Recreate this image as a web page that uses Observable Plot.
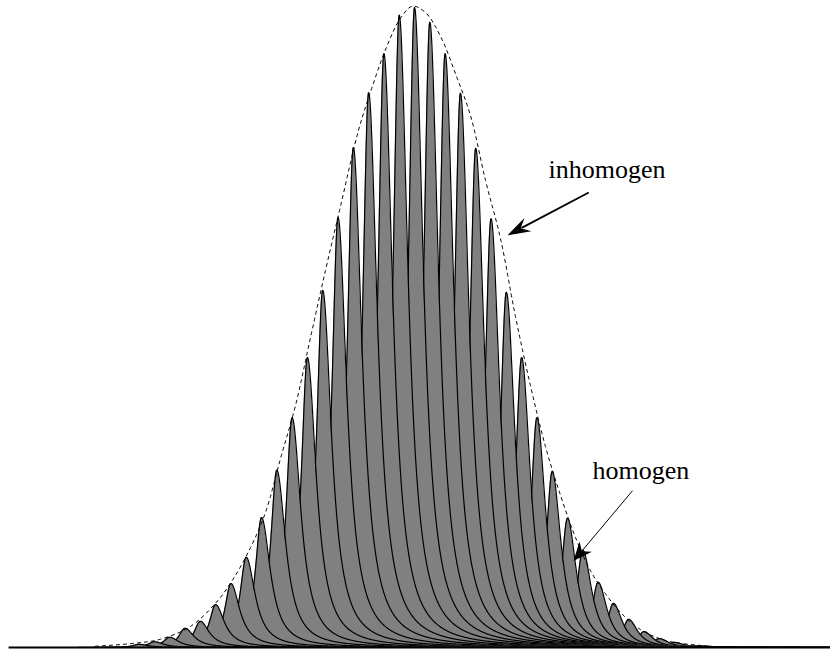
<!DOCTYPE html>
<html>
<head>
<meta charset="utf-8">
<script src="https://cdn.jsdelivr.net/npm/d3@7"></script>
<script src="https://cdn.jsdelivr.net/npm/@observablehq/plot@0.6"></script>
<style>
  html, body { margin: 0; padding: 0; background: #fff; }
  #chart svg { display: block; }
</style>
</head>
<body>
<div id="chart"></div>
<script>
// --- Data ---
// Line centres (in units of the line spacing) and their peak heights (% of max)
const lineCenters = [-18,-17,-16,-15,-14,-13,-12,-11,-10,-9,-8,-7,-6,-5,-4,-3,-2,-1,0,
                     1,2,3,4,5,6,7,8,9,10,11,12,13,14,15,16,17,18];
const lineHeights = [0.5,0.9,1.6,3.0,4.1,6.7,10.0,14.1,20.3,27.7,35.9,45.3,55.8,67.2,78.1,86.7,92.8,98.8,100,
                     97.7,92.8,86.6,78.0,67.0,55.5,45.3,35.9,27.5,20.2,15.2,10.2,6.9,4.4,2.5,1.4,0.8,0.3];
// Inhomogeneous (dashed) envelope
const envelopeX = [-20.85,-18.56,-16.6,-14.64,-13.01,-11.9,-10.72,-9.74,-8.76,-7.78,-6.8,-5.82,-4.84,-3.66,-2.75,-1.83,-0.92,-0.13,
                   0.72,1.7,2.75,3.66,4.64,5.62,6.6,7.58,8.56,9.54,10.52,11.5,12.48,13.46,14.77,16.41,18.76,20.65];
const envelopeY = [0.2,0.6,1.3,3.3,6.9,10.5,15.6,21.1,29.5,37.8,48.4,58.9,68.9,80.8,87.7,93.8,98.3,100.2,
                   99.2,95.5,89.2,83.1,73.0,63.9,51.7,40.9,31.4,23.8,17.2,12.0,8.4,5.5,2.8,1.1,0.3,0];
// Annotations
const labels = [
  {text: "inhomogen", x: 8.76, y: 73.4},
  {text: "homogen",   x: 11.63, y: 26.4}
];
const arrows = [
  {x1: 11.39, y1: 71.1, x2: 6.08,  y2: 64.4, width: 1.8, len: 23, half: 7.5, notch: 15},
  {x1: 14.25, y1: 24.5, x2: 10.39, y2: 13.5, width: 1.0, len: 19, half: 8,   notch: 13}
];
// Line shape widths (half widths at half maximum, in line spacings): steep rise, long tail
const riseWidth = 0.49;
const tailWidth = 0.70;

// --- Layout ---
const W = 830, H = 649, MB = 2;
const xDomain = [-27.06, 27.19];
const yDomain = [0, 101.09];
const pxPerX = W / (xDomain[1] - xDomain[0]);
const pxPerY = (H - MB) / (yDomain[1] - yDomain[0]);

function profile(c, h) {
  const pts = [];
  const lo = Math.max(xDomain[0], c - 4), hi = Math.min(xDomain[1], c + 16);
  for (let x = lo; x <= hi + 1e-9; x += 0.02) {
    const d = x - c;
    const w = d < 0 ? riseWidth : tailWidth;
    pts.push({x, y: h / (1 + (d / w) * (d / w))});
  }
  return pts;
}

const peakMarks = [];
for (let i = lineCenters.length - 1; i >= 0; i--) {
  const pts = profile(lineCenters[i], lineHeights[i]);
  peakMarks.push(Plot.areaY(pts, {x: "x", y: "y", fill: "#808080"}));
  peakMarks.push(Plot.lineY(pts, {x: "x", y: "y", stroke: "#000", strokeWidth: 1.2}));
}

const envelope = envelopeX.map((x, i) => ({x, y: envelopeY[i]}));

// Arrow geometry in screen terms (for the heads)
const arrowData = arrows.map(a => {
  const dx = (a.x2 - a.x1) * pxPerX, dy = -(a.y2 - a.y1) * pxPerY;
  const n = Math.hypot(dx, dy);
  const back = a.notch + 1;
  return {
    ...a,
    angle: Math.atan2(dx, -dy) * 180 / Math.PI,
    sx: a.x2 - (dx / n) * back / pxPerX,
    sy: a.y2 + (dy / n) * back / pxPerY
  };
});
const headSymbol = (len, half, notch) => ({
  draw(ctx) {
    ctx.moveTo(0, 0);
    ctx.lineTo(-half, len);
    ctx.lineTo(0, notch);
    ctx.lineTo(half, len);
    ctx.closePath();
  }
});

const chart = Plot.plot({
  width: W, height: H,
  marginTop: 0, marginLeft: 0, marginRight: 0, marginBottom: MB,
  x: {domain: xDomain, axis: null},
  y: {domain: yDomain, axis: null},
  marks: [
    ...peakMarks,
    Plot.ruleY([0], {x1: -26.5, x2: xDomain[1], stroke: "#000", strokeWidth: 2}),
    Plot.line(envelope, {x: "x", y: "y", curve: "catmull-rom", stroke: "#000", strokeWidth: 1, strokeDasharray: "3,4"}),
    Plot.link(arrowData, {x1: "x1", y1: "y1", x2: "sx", y2: "sy", stroke: "#000", strokeWidth: d => d.width}),
    ...arrowData.map(a => Plot.dot([a], {x: "x2", y: "y2", symbol: headSymbol(a.len, a.half, a.notch), rotate: a.angle, fill: "#000", stroke: "none"})),
    Plot.text(labels, {x: "x", y: "y", text: "text", textAnchor: "start", lineAnchor: "bottom",
      fontFamily: "Liberation Serif", fontSize: 26, fill: "#000"})
  ]
});
document.getElementById("chart").appendChild(chart);
</script>
</body>
</html>
